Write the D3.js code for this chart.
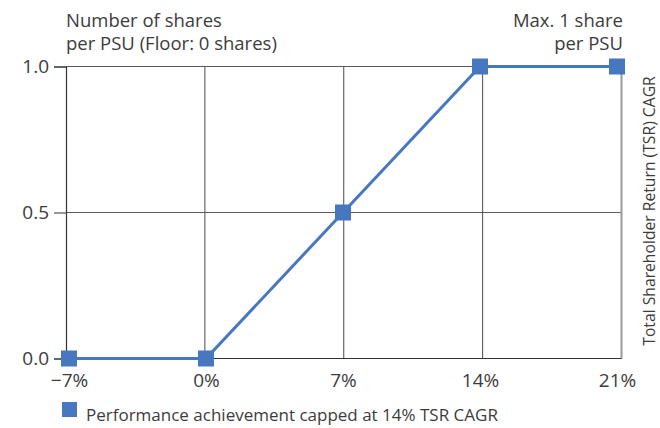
<!DOCTYPE html>
<html>
<head>
<meta charset="utf-8">
<script src="https://cdn.jsdelivr.net/npm/d3@7"></script>
<style>
  html, body { margin: 0; padding: 0; background: #fff; }
  svg { display: block; font-family: "Open Sans", "Noto Sans", sans-serif; }
</style>
</head>
<body>
<svg id="chart" width="660" height="428"></svg>
<script>
// TSR CAGR (%) vs. number of shares per PSU
const tsrValues = [-7, 0, 7, 14, 21];
const sharesPerPsu = [0, 0, 0.5, 1, 1];
const xTicks = [-7, 0, 7, 14, 21];
const yTicks = [0, 0.5, 1];
const legendLabel = "Performance achievement capped at 14% TSR CAGR";
const yTitleLines = ["Number of shares", "per PSU (Floor: 0 shares)"];
const capLines = ["Max. 1 share", "per PSU"];
const xTitle = "Total Shareholder Return (TSR) CAGR";

const blue = "#4777be";
const textColor = "#3c3c3c";
const font = "'Open Sans', 'Noto Sans', sans-serif";

const svg = d3.select("#chart");

// Frame/grid scale and the (slightly inset) scale used for points and tick labels
const xGrid = d3.scaleLinear().domain([-7, 21]).range([66, 621.5]);
const x = d3.scaleLinear().domain([-7, 21]).range([69, 617]);
const y = d3.scaleLinear().domain([0, 1]).range([358.5, 66.5]);

const fmtX = d => (d < 0 ? "\u2212" + Math.abs(d) : d) + "%";

// Grid lines
const grid = svg.append("g");
grid.selectAll("line.v").data(xTicks.slice(1, -1)).join("line")
  .attr("x1", d => xGrid(d)).attr("x2", d => xGrid(d))
  .attr("y1", y(1)).attr("y2", y(0))
  .attr("stroke", "#4a4a4a").attr("stroke-width", 1);
grid.selectAll("line.h").data(yTicks.slice(1)).join("line")
  .attr("x1", xGrid(-7)).attr("x2", xGrid(21))
  .attr("y1", d => y(d)).attr("y2", d => y(d))
  .attr("stroke", "#5a5a5a").attr("stroke-width", 1);
// right border
grid.append("line")
  .attr("x1", xGrid(21)).attr("x2", xGrid(21)).attr("y1", y(1)).attr("y2", y(0))
  .attr("stroke", "#9a9a9a").attr("stroke-width", 2);

// Left axis
const yAxis = svg.append("g")
  .attr("transform", `translate(${xGrid(-7)},0)`)
  .call(d3.axisLeft(y).tickValues(yTicks).tickFormat(d3.format(".1f")).tickSize(12).tickPadding(5));
yAxis.select(".domain").attr("stroke", "#333").attr("stroke-width", 1.2);
yAxis.selectAll(".tick line").attr("stroke", "#333");
yAxis.selectAll(".tick text").attr("fill", textColor).style("font-size", "19px").style("font-family", font);

// Bottom axis line (frame) and tick labels (aligned with points)
svg.append("line")
  .attr("x1", xGrid(-7)).attr("x2", xGrid(21)).attr("y1", y(0)).attr("y2", y(0))
  .attr("stroke", "#333").attr("stroke-width", 1.2);
const xAxis = svg.append("g")
  .attr("transform", `translate(0,${y(0)})`)
  .call(d3.axisBottom(x).tickValues(xTicks).tickFormat(fmtX).tickSize(0).tickPadding(15));
xAxis.select(".domain").remove();
xAxis.selectAll(".tick text").attr("fill", textColor).style("font-size", "19px").style("font-family", font);

// Data line and markers
const pts = tsrValues.map((v, i) => [v, sharesPerPsu[i]]);
svg.append("path")
  .datum(pts)
  .attr("fill", "none")
  .attr("stroke", blue)
  .attr("stroke-width", 3)
  .attr("d", d3.line().x(d => x(d[0])).y(d => y(d[1])));

const ms = 16;
svg.selectAll("rect.marker").data(pts).join("rect")
  .attr("class", "marker")
  .attr("x", d => x(d[0]) - ms / 2)
  .attr("y", d => y(d[1]) - ms / 2)
  .attr("width", ms).attr("height", ms)
  .attr("fill", blue);

// Annotations
svg.append("text")
  .attr("y", 27)
  .attr("fill", textColor).style("font-size", "18.5px")
  .selectAll("tspan").data(yTitleLines).join("tspan")
  .attr("x", 66).attr("dy", (d, i) => i ? 23 : 0).text(d => d);

svg.append("text")
  .attr("y", 27)
  .attr("text-anchor", "end")
  .attr("fill", textColor).style("font-size", "18.5px")
  .selectAll("tspan").data(capLines).join("tspan")
  .attr("x", 623).attr("dy", (d, i) => i ? 23 : 0).text(d => d);

svg.append("text")
  .attr("transform", `translate(655,211) rotate(-90)`)
  .attr("text-anchor", "middle")
  .attr("fill", textColor).style("font-size", "15.7px")
  .text(xTitle);

// Legend
svg.append("rect").attr("x", 62).attr("y", 402).attr("width", 15).attr("height", 15).attr("fill", blue);
svg.append("text").attr("x", 86).attr("y", 421)
  .attr("fill", textColor).style("font-size", "17px").text(legendLabel);
</script>
</body>
</html>
